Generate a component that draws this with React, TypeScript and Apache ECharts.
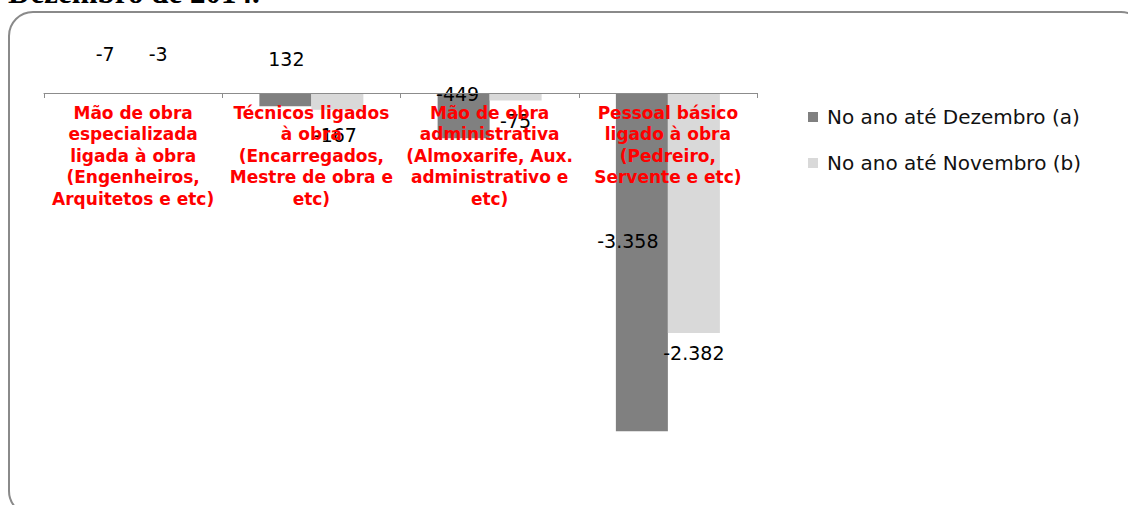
import React, { useEffect, useRef } from "react";
import * as echarts from "echarts";

const categories = [
  "Mão de obra\nespecializada\nligada à obra\n(Engenheiros,\nArquitetos e etc)",
  "Técnicos ligados\nà obra\n(Encarregados,\nMestre de obra e\netc)",
  "Mão de obra\nadministrativa\n(Almoxarife, Aux.\nadministrativo e\netc)",
  "Pessoal básico\nligado à obra\n(Pedreiro,\nServente e etc)",
];
const seriesNames = ["No ano até Dezembro (a)", "No ano até Novembro (b)"];
const decValues = [-7, -132, -449, -3358];
const novValues = [-3, -167, -75, -2382];
const decLabels = ["-7", "132", "-449", "-3.358"];
const novLabels = ["-3", "-167", "-75", "-2.382"];
const title = "Dezembro de 2014.";

// label placement (style only)
const decLabelPos = [
  { position: "top", offset: [-2, -25] },
  { position: "top", offset: [1, -20] },
  { position: "insideTop", offset: [-6, -14] },
  { position: "inside", offset: [-14, -21] },
];
const novLabelPos = [
  { position: "top", offset: [-1, -25] },
  { position: "bottom", offset: [-2, 11] },
  { position: "bottom", offset: [0, 6] },
  { position: "bottom", offset: [0, 6] },
];

export default function App() {
  const ref = useRef<HTMLDivElement>(null);
  useEffect(() => {
    const chart = echarts.init(ref.current!, null, { renderer: "svg" });
    const labelFont = { fontFamily: "DejaVu Sans", fontSize: 19, color: "#000" };
    const mk = (vals: number[], texts: string[], pos: any[]) =>
      vals.map((v, i) => ({
        value: v,
        label: {
          show: true,
          position: pos[i].position,
          offset: pos[i].offset,
          distance: 5,
          formatter: () => texts[i],
          ...labelFont,
        },
      }));
    chart.setOption({
      animation: false,
      backgroundColor: "#fff",
      graphic: [
        {
          type: "rect",
          shape: { x: 9, y: 12, width: 1136, height: 503, r: 24 },
          style: { fill: "none", stroke: "#8a8a8a", lineWidth: 2 },
          silent: true,
          z: -1,
        },
        {
          type: "text",
          x: 8,
          y: 8,
          style: {
            text: title,
            fontFamily: "Liberation Serif",
            fontWeight: "bold",
            fontSize: 31,
            fill: "#000",
            verticalAlign: "bottom",
          },
        },
      ],
      legend: {
        orient: "vertical",
        left: 803,
        top: 102,
        itemWidth: 10,
        itemHeight: 10,
        itemGap: 26,
        icon: "rect",
        textStyle: { fontFamily: "DejaVu Sans", fontSize: 20, color: "#111", padding: [0, 0, 0, 4] },
        data: seriesNames,
      },
      grid: { left: 44, width: 713, top: 93, height: 403, containLabel: false, outerBoundsMode: "none" },
      xAxis: {
        type: "category",
        position: "top",
        data: categories,
        z: 3,
        axisLine: { show: true, onZero: false, lineStyle: { color: "#8c8c8c", width: 1 } },
        axisTick: { show: true, inside: true, length: 5, lineStyle: { color: "#8c8c8c" } },
        axisLabel: {
          inside: true,
          interval: 0,
          margin: 9,
          color: "#ff0000",
          fontFamily: "DejaVu Sans",
          fontWeight: "bold",
          fontSize: 17,
          lineHeight: 21.5,
          align: "center",
          verticalAlign: "top",
        },
      },
      yAxis: {
        type: "value",
        min: -4000,
        max: 0,
        show: false,
        splitLine: { show: false },
      },
      series: [
        {
          name: seriesNames[0],
          type: "bar",
          barWidth: 52,
          barGap: "0%",
          itemStyle: { color: "#808080" },
          data: mk(decValues, decLabels, decLabelPos),
          z: 2,
        },
        {
          name: seriesNames[1],
          type: "bar",
          barWidth: 52,
          barGap: "0%",
          itemStyle: { color: "#d9d9d9" },
          data: mk(novValues, novLabels, novLabelPos),
          z: 2,
        },
      ],
    });
    return () => chart.dispose();
  }, []);
  return (
    <div
      ref={ref}
      style={{ position: "fixed", left: 0, top: 0, width: 1128, height: 505, background: "#fff" }}
    />
  );
}
